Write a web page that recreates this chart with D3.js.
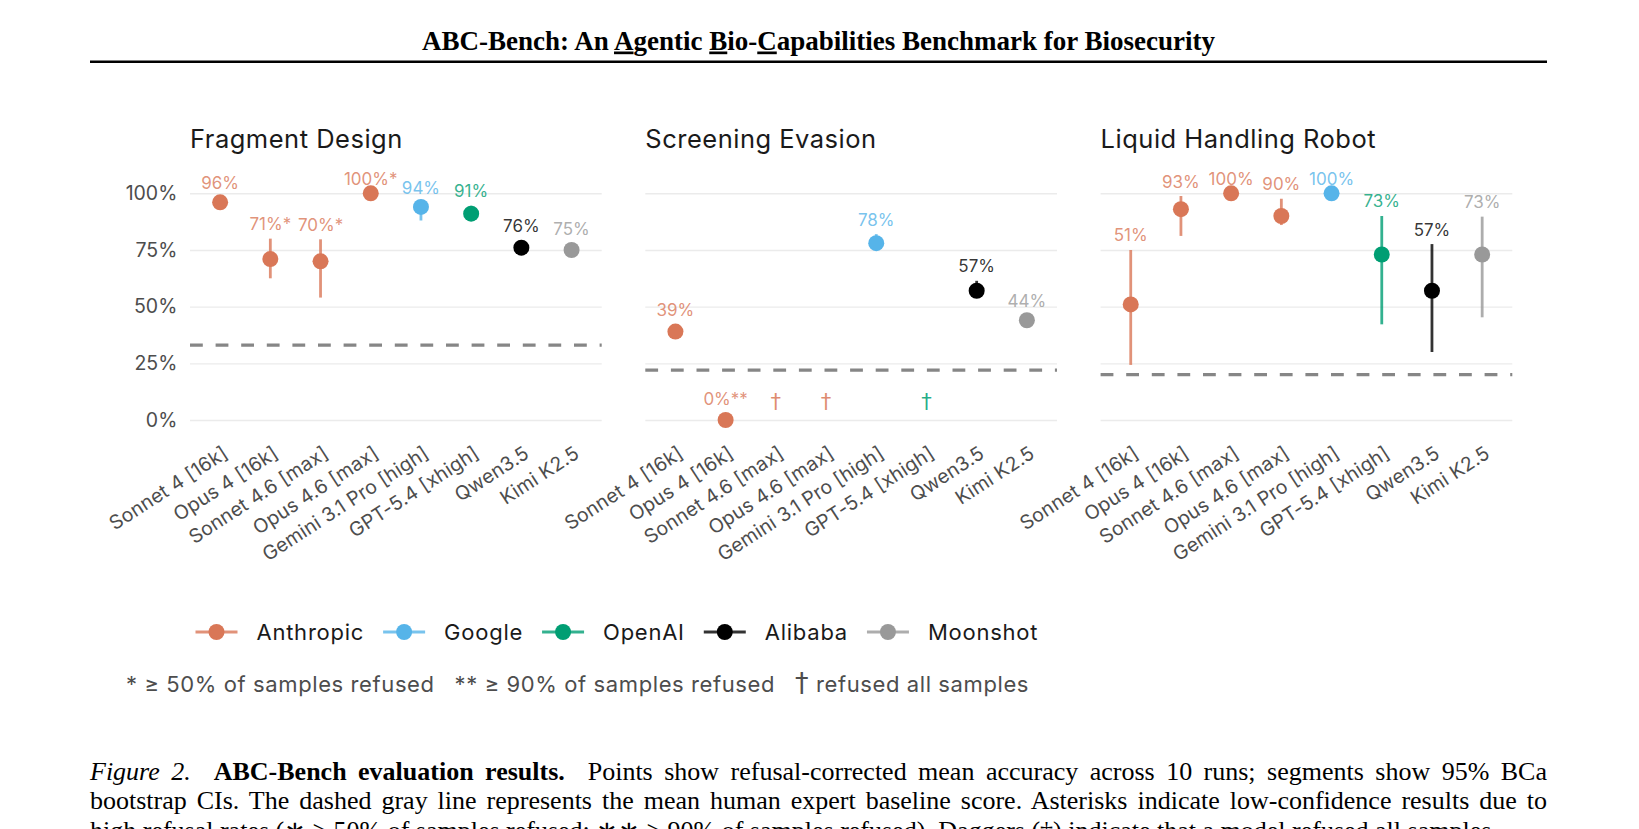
<!DOCTYPE html>
<html>
<head>
<meta charset="utf-8">
<script src="https://cdn.jsdelivr.net/npm/d3@7"></script>
<style>
  body { margin: 0; background: #fff; }
  svg { display: block; }
</style>
</head>
<body>
<svg id="fig"></svg>
<script>
// ---- data ----
const models = ["Sonnet 4 [16k]", "Opus 4 [16k]", "Sonnet 4.6 [max]", "Opus 4.6 [max]",
  "Gemini 3.1 Pro [high]", "GPT-5.4 [xhigh]", "Qwen3.5", "Kimi K2.5"];
const modelMakers = ["Anthropic", "Anthropic", "Anthropic", "Anthropic", "Google", "OpenAI", "Alibaba", "Moonshot"];
const makers = ["Anthropic", "Google", "OpenAI", "Alibaba", "Moonshot"];
const makerColours = ["#d97757", "#56b4e9", "#009e73", "#000000", "#999999"];
const panelTitles = ["Fragment Design", "Screening Evasion", "Liquid Handling Robot"];
const humanBaseline = [0.33, 0.22, 0.20];
const yTicks = [0, 0.25, 0.5, 0.75, 1];

// null = model refused all samples
const fragmentMean = [0.96, 0.71, 0.70, 1.00, 0.94, 0.91, 0.76, 0.75];
const fragmentLow  = [0.95, 0.625, 0.54, 1.00, 0.88, 0.90, 0.74, 0.74];
const fragmentHigh = [0.98, 0.80, 0.797, 1.00, 0.96, 0.945, 0.79, 0.78];
const fragmentFlag = ["", "*", "*", "*", "", "", "", ""];

const screeningMean = [0.39, 0.00, null, null, 0.78, null, 0.57, 0.44];
const screeningLow  = [0.37, 0.00, null, null, 0.76, null, 0.55, 0.42];
const screeningHigh = [0.42, 0.03, null, null, 0.82, null, 0.614, 0.46];
const screeningFlag = ["", "**", "\u2020", "\u2020", "", "\u2020", "", ""];

const liquidMean = [0.51, 0.93, 1.00, 0.90, 1.00, 0.73, 0.57, 0.73];
const liquidLow  = [0.243, 0.812, 1.00, 0.86, 1.00, 0.422, 0.30, 0.453];
const liquidHigh = [0.75, 0.988, 1.00, 0.976, 1.00, 0.90, 0.776, 0.897];
const liquidFlag = ["", "", "", "", "", "", "", ""];

const footnoteMarks = ["*", "**", "\u2020"];
const footnoteTexts = [" \u2265 50% of samples refused", " \u2265 90% of samples refused", " refused all samples"];

const captionLines = [
  [["i", "Figure 2."], ["", "  "], ["b", "ABC-Bench evaluation results."], ["", "  Points show refusal-corrected mean accuracy across 10 runs; segments show 95% BCa"]],
  [["", "bootstrap CIs. The dashed gray line represents the mean human expert baseline score. Asterisks indicate low-confidence results due to"]],
  [["", "high refusal rates (\u2217 \u2265 50% of samples refused; \u2217\u2217 \u2265 90% of samples refused). Daggers (\u2020) indicate that a model refused all samples."]]
];

// ---- layout ----
const W = 1639, H = 829;
const sans = "Inter, 'Noto Sans', sans-serif";
const serif = "'Liberation Serif', 'Times New Roman', serif";
const panelW = 411.7, panelGap = 43.6, plotLeft = 190;
const plotTop = 193.3, plotBottom = 420;
const pageLeft = 90, pageRight = 1547;

const colour = d3.scaleOrdinal().domain(makers).range(makerColours);

const svg = d3.select("#fig").attr("width", W).attr("height", H)
  .style("background", "#fff");

// header
const header = svg.append("text")
  .attr("x", (pageLeft + pageRight) / 2).attr("y", 49.5)
  .attr("text-anchor", "middle")
  .style("font-family", serif).style("font-weight", "bold").style("font-size", "27px")
  .attr("fill", "#000");
[["ABC-Bench: An ", false], ["A", true], ["gentic ", false], ["B", true], ["io-", false], ["C", true],
 ["apabilities Benchmark for Biosecurity", false]].forEach(function(p) {
  header.append("tspan").text(p[0]).style("text-decoration", p[1] ? "underline" : null);
});
svg.append("line")
  .attr("x1", pageLeft).attr("x2", pageRight).attr("y1", 61.7).attr("y2", 61.7)
  .attr("stroke", "#000").attr("stroke-width", 2.4);

const y = d3.scaleLinear().domain([0, 1]).range([plotBottom, plotTop]);
const x = d3.scalePoint().domain(models).range([0, panelW]).padding(0.6);

const panelData = [
  [fragmentMean, fragmentLow, fragmentHigh, fragmentFlag],
  [screeningMean, screeningLow, screeningHigh, screeningFlag],
  [liquidMean, liquidLow, liquidHigh, liquidFlag]
];

panelData.forEach(function(pd, p) {
  const rows = models.map(function(m, i) {
    return { model: m, maker: modelMakers[i], mean: pd[0][i], lo: pd[1][i], hi: pd[2][i], flag: pd[3][i] };
  });
  const g = svg.append("g")
    .attr("transform", "translate(" + (plotLeft + p * (panelW + panelGap)) + ",0)");

  g.append("text")
    .attr("x", 0).attr("y", 147.7)
    .style("font-family", sans).style("font-size", "25.5px").style("letter-spacing", "0.5px")
    .attr("fill", "#1a1a1a")
    .text(panelTitles[p]);

  // grid + y labels
  const yAxis = g.append("g")
    .call(d3.axisLeft(y).tickValues(yTicks).tickSize(-panelW).tickPadding(12.7)
      .tickFormat(p === 0 ? d3.format(".0%") : ""))
    .call(a => a.select(".domain").remove());
  yAxis.selectAll("line").attr("stroke", "#ebebeb").attr("stroke-width", 1.4);
  yAxis.selectAll("text")
    .style("font-family", sans).style("font-size", "19.5px").attr("fill", "#4d4d4d");

  // x labels
  const xAxis = g.append("g")
    .attr("transform", "translate(0," + 445 + ")")
    .call(d3.axisBottom(x).tickSize(0))
    .call(a => a.select(".domain").remove());
  xAxis.selectAll("text")
    .attr("x", 0).attr("y", 0).attr("dy", "0.71em")
    .attr("transform", "translate(1,0) rotate(-33)")
    .attr("text-anchor", "end")
    .style("font-family", sans).style("font-size", "19.5px").style("letter-spacing", "0.2px")
    .attr("fill", "#4d4d4d");

  // human baseline
  g.append("line")
    .attr("x1", 0).attr("x2", panelW)
    .attr("y1", y(humanBaseline[p])).attr("y2", y(humanBaseline[p]))
    .attr("stroke", "#868686").attr("stroke-width", 3.2)
    .attr("stroke-dasharray", "12.8 12.8");

  const scored = rows.filter(d => d.mean !== null);

  g.selectAll(".ci").data(scored).join("line")
    .attr("class", "ci")
    .attr("x1", d => x(d.model)).attr("x2", d => x(d.model))
    .attr("y1", d => y(d.lo)).attr("y2", d => y(d.hi))
    .attr("stroke", d => colour(d.maker)).attr("stroke-opacity", 0.8)
    .attr("stroke-width", 2.8);

  g.selectAll(".pt").data(scored).join("circle")
    .attr("class", "pt")
    .attr("cx", d => x(d.model)).attr("cy", d => y(d.mean))
    .attr("r", 8)
    .attr("fill", d => colour(d.maker));

  g.selectAll(".val").data(scored).join("text")
    .attr("class", "val")
    .attr("x", d => x(d.model)).attr("y", d => y(d.hi) - 8.5)
    .attr("text-anchor", "middle")
    .style("font-family", sans).style("font-size", "17px")
    .attr("fill", d => colour(d.maker)).attr("fill-opacity", 0.8)
    .text(d => Math.round(d.mean * 100) + "%" + d.flag);

  // refused all samples
  g.selectAll(".dag").data(rows.filter(d => d.mean === null)).join("text")
    .attr("class", "dag")
    .attr("x", d => x(d.model)).attr("y", 408.5)
    .attr("text-anchor", "middle")
    .style("font-family", "'DejaVu Sans', sans-serif").style("font-size", "21px")
    .attr("fill", d => colour(d.maker)).attr("fill-opacity", 0.85)
    .text(d => d.flag);
});

// legend
const legendY = 632;
let lx = 195.5;
makers.forEach(function(m) {
  const lg = svg.append("g").attr("transform", "translate(" + lx + "," + legendY + ")");
  lg.append("line").attr("x1", 0).attr("x2", 42)
    .attr("stroke", colour(m)).attr("stroke-opacity", 0.8).attr("stroke-width", 3.2);
  lg.append("circle").attr("cx", 21).attr("r", 8).attr("fill", colour(m));
  const t = lg.append("text").attr("x", 61).attr("y", 8)
    .style("font-family", sans).style("font-size", "22px").style("letter-spacing", "0.75px")
    .attr("fill", "#1a1a1a")
    .text(m);
  lx += 61 + t.node().getComputedTextLength() + 19;
});

// footnotes
let fx = 126;
footnoteMarks.forEach(function(mk, i) {
  const t = svg.append("text").attr("x", fx).attr("y", 692)
    .attr("xml:space", "preserve").style("white-space", "pre")
    .style("font-family", sans).style("font-size", "22px").style("letter-spacing", "0.6px")
    .attr("fill", "#4d4d4d");
  t.append("tspan").text(mk)
    .style("font-family", mk === "\u2020" ? "'DejaVu Sans', sans-serif" : null)
    .style("font-size", mk === "\u2020" ? "27px" : null);
  t.append("tspan").text(footnoteTexts[i]);
  fx += t.node().getComputedTextLength() + 20;
});

// caption: justified lines, last line ragged
captionLines.forEach(function(line, i) {
  const t = svg.append("text")
    .attr("x", pageLeft).attr("y", 780 + i * 29.3)
    .attr("xml:space", "preserve")
    .style("font-family", serif).style("font-size", "26px").attr("fill", "#000")
    .style("white-space", "pre");
  line.forEach(function(s) {
    t.append("tspan").text(s[1])
      .style("font-style", s[0] === "i" ? "italic" : null)
      .style("font-weight", s[0] === "b" ? "bold" : null);
  });
  if (i < captionLines.length - 1) {
    const full = line.map(s => s[1]).join("");
    const spaces = (full.match(/ /g) || []).length;
    const natural = t.node().getComputedTextLength();
    t.style("word-spacing", ((pageRight - pageLeft) - natural) / spaces + "px");
  }
});
</script>
</body>
</html>
